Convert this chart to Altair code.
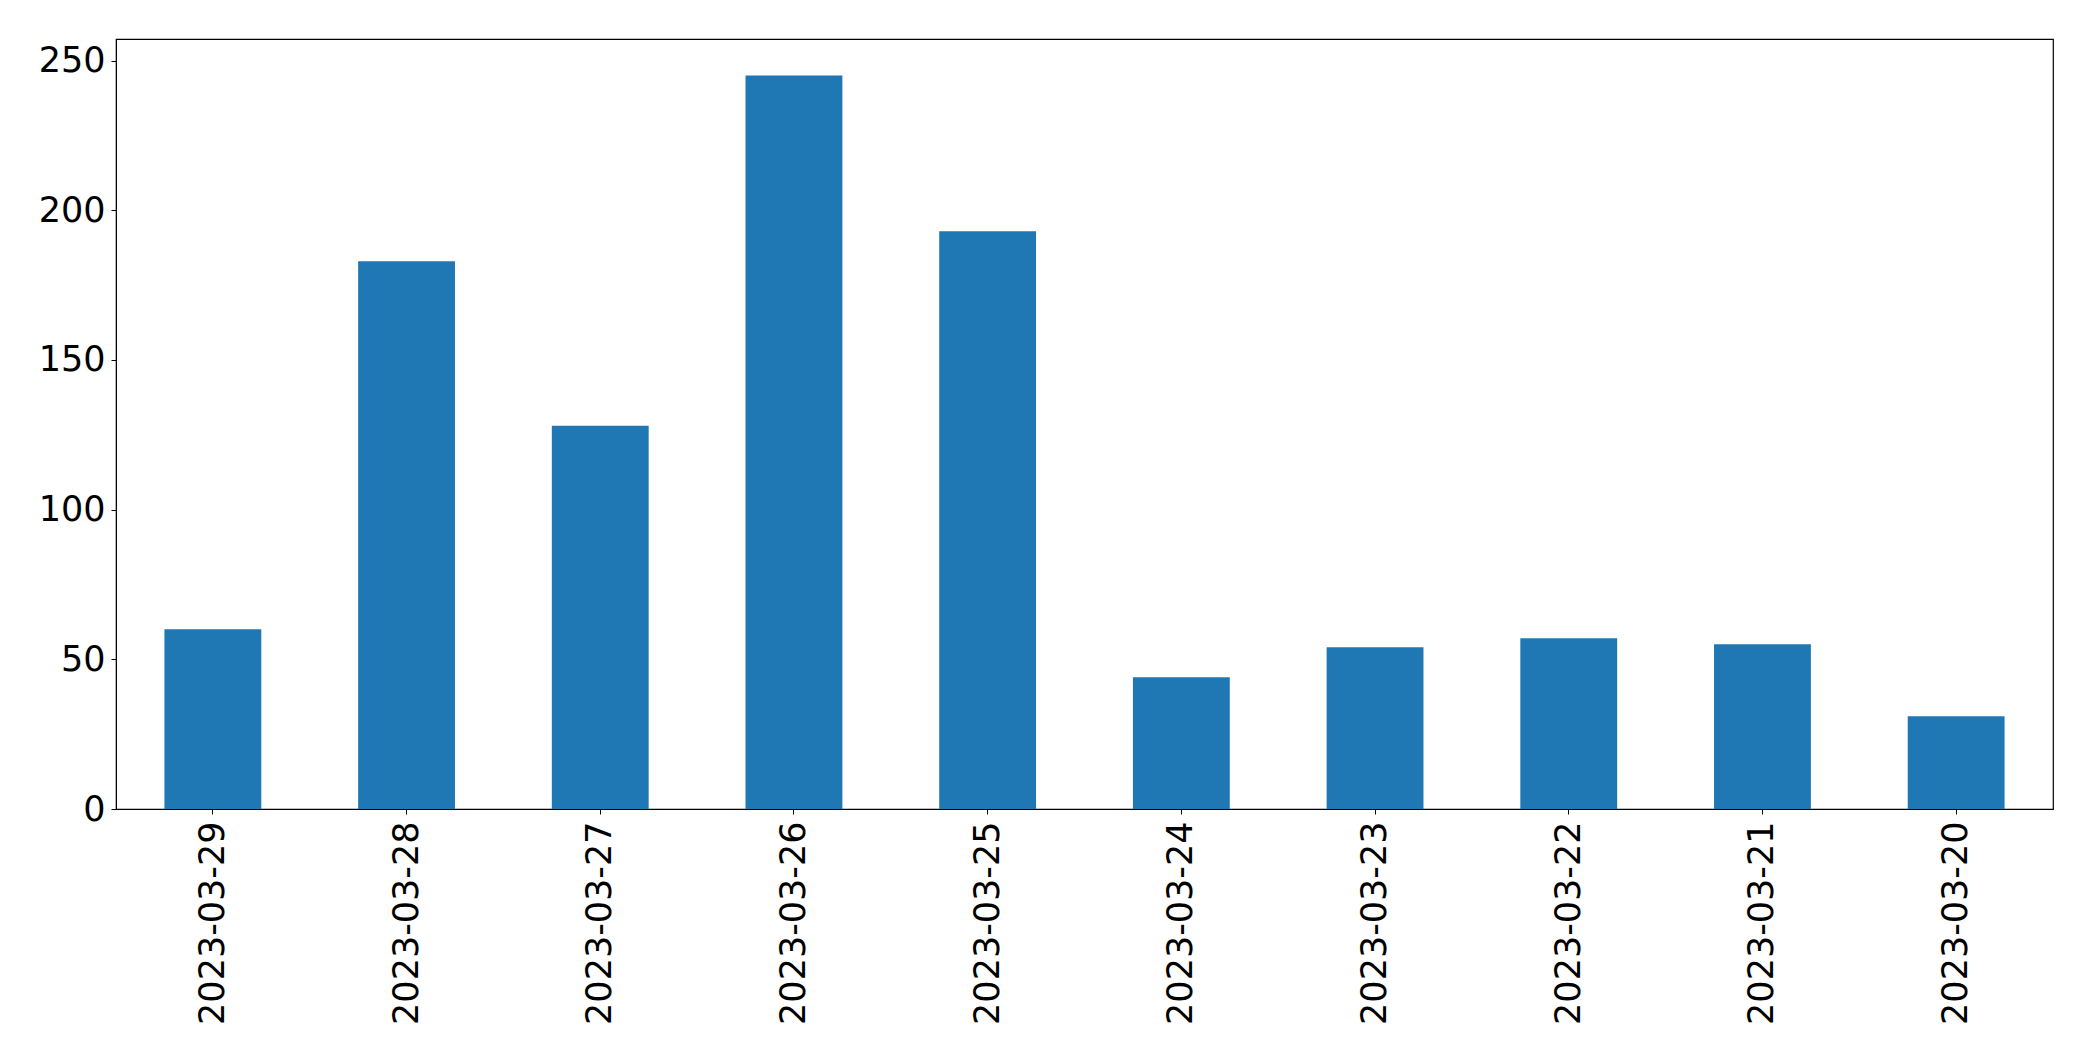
import altair as alt
import pandas as pd

dates = ["2023-03-29", "2023-03-28", "2023-03-27", "2023-03-26", "2023-03-25",
         "2023-03-24", "2023-03-23", "2023-03-22", "2023-03-21", "2023-03-20"]
counts = [60, 183, 128, 245, 193, 44, 54, 57, 55, 31]
y_ticks = [0, 50, 100, 150, 200, 250]

df = pd.DataFrame({"date": dates, "count": counts})

chart = alt.Chart(df).mark_bar(color="#1f77b4").encode(
    x=alt.X("date:N", sort=None,
            scale=alt.Scale(paddingInner=0.5, paddingOuter=0.25),
            axis=alt.Axis(title=None, labelAngle=-90, labelFontSize=35,
                          labelFont="DejaVu Sans", labelColor="black",
                          labelLimit=0, labelPadding=7, tickSize=5,
                          tickColor="black", domainColor="black", grid=False)),
    y=alt.Y("count:Q",
            scale=alt.Scale(domain=[0, 257.2], nice=False, zero=True),
            axis=alt.Axis(title=None, values=y_ticks, labelFontSize=35,
                          labelFont="DejaVu Sans", labelColor="black",
                          labelPadding=6, tickSize=5, tickColor="black",
                          domainColor="black", grid=False)),
).properties(
    width=1937, height=770,
    background="white",
    autosize=alt.AutoSizeParams(type="none"),
    padding={"left": 108, "top": 31, "right": 20, "bottom": 220},
).configure_view(
    stroke="black", strokeWidth=1.2
)

chart.save("out.html", embed_options={"renderer": "svg", "actions": False})
